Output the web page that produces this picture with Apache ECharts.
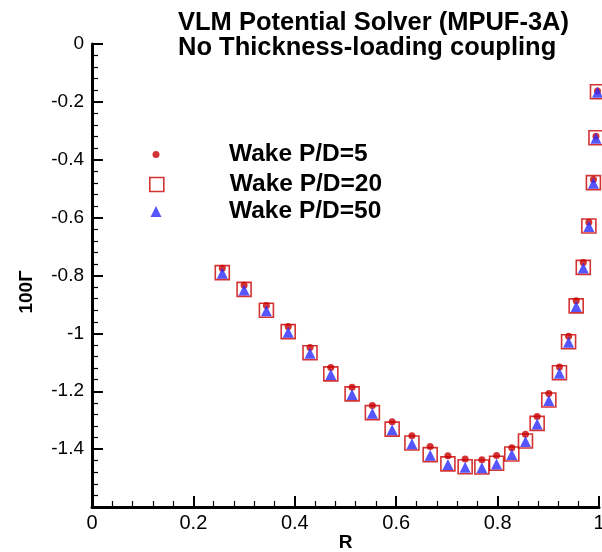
<!DOCTYPE html>
<html>
<head>
<meta charset="utf-8">
<script src="https://cdn.jsdelivr.net/npm/echarts@6/dist/echarts.min.js"></script>
<style>
  html, body { margin: 0; padding: 0; background: #fff; }
  #chart { width: 602px; height: 552px; }
</style>
</head>
<body>
<div id="chart"></div>
<script>
// radius stations (shared by all three wakes)
const radius = [0.257, 0.300, 0.344, 0.387, 0.430, 0.471, 0.513, 0.553, 0.592, 0.631,
    0.667, 0.702, 0.736, 0.769, 0.798, 0.828, 0.855, 0.878, 0.901, 0.922,
    0.940, 0.955, 0.969, 0.980, 0.989, 0.994, 0.997];

// 100*Gamma for each wake pitch
const gammaPD5 = [-0.775, -0.834, -0.904, -0.976, -1.049, -1.118, -1.186, -1.249, -1.305, -1.354,
    -1.391, -1.423, -1.434, -1.437, -1.422, -1.395, -1.349, -1.287, -1.208, -1.116,
    -1.010, -0.887, -0.755, -0.616, -0.468, -0.319, -0.162];
const gammaPD20 = [-0.790, -0.848, -0.920, -0.994, -1.067, -1.140, -1.209, -1.274, -1.331, -1.379,
    -1.419, -1.451, -1.461, -1.462, -1.449, -1.417, -1.372, -1.311, -1.230, -1.136,
    -1.029, -0.905, -0.772, -0.629, -0.479, -0.324, -0.165];
const gammaPD50 = [-0.792, -0.850, -0.922, -0.996, -1.069, -1.142, -1.211, -1.276, -1.333, -1.381,
    -1.421, -1.453, -1.463, -1.464, -1.451, -1.419, -1.374, -1.313, -1.232, -1.138,
    -1.031, -0.907, -0.774, -0.631, -0.481, -0.326, -0.167];

const seriesNames = ["Wake P/D=5", "Wake P/D=20", "Wake P/D=50"];
const titleText = "VLM Potential Solver (MPUF-3A)\nNo Thickness-loading coupling";

const FONT = "Liberation Sans, Arial, Helvetica, sans-serif";
const RED = "#c80000";
const BLUE = "#2c2cff";

const pairs = (ys) => radius.map((r, i) => [r, ys[i]]);

const chart = echarts.init(document.getElementById("chart"));

// one legend per entry so each icon keeps its own size
const legendText = { fontSize: 24.5, fontWeight: "bold", color: "#000", fontFamily: FONT };
function legendEntry(name, icon, size, top, itemStyle) {
    return {
        data: [{ name: name, icon: icon }],
        left: 156 - size / 2,
        top: top,
        orient: "vertical",
        padding: 0,
        itemWidth: 136,
        itemHeight: size,
        itemGap: 0,
        selectedMode: false,
        symbolKeepAspect: true,
        itemStyle: itemStyle,
        textStyle: legendText
    };
}

chart.setOption({
    backgroundColor: "#fff",
    animation: false,

    title: {
        text: titleText,
        left: 178,
        top: 10,
        padding: 0,
        textStyle: { fontSize: 25.5, fontWeight: "bold", color: "#000", lineHeight: 25, fontFamily: FONT }
    },

    legend: [
        legendEntry(seriesNames[0], "circle", 7, 142, { color: RED, borderWidth: 0 }),
        legendEntry(seriesNames[1], "path://M0,0L10,0L10,10L0,10Z", 14, 172,
            { color: "transparent", borderColor: RED, borderWidth: 1.6 }),
        legendEntry(seriesNames[2], "path://M5,0L10,10L0,10Z", 11, 199, { color: BLUE, borderWidth: 0 })
    ],

    grid: { left: 92, right: 3, top: 44, bottom: 45, outerBoundsMode: "none", containLabel: false },

    xAxis: {
        type: "value",
        min: 0, max: 1, interval: 0.2,
        name: "R",
        nameLocation: "middle",
        nameGap: 26,
        nameMoveOverlap: false,
        nameTextStyle: { fontSize: 19, fontWeight: "bold", color: "#000", fontFamily: FONT },
        axisLine: { onZero: false, lineStyle: { color: "#000", width: 3 } },
        axisTick: { inside: true, length: 11, lineStyle: { color: "#000", width: 2 } },
        minorTick: { show: true, splitNumber: 5, length: 6, lineStyle: { color: "#000", width: 1.2 } },
        axisLabel: { fontSize: 20, color: "#000", margin: 6, fontFamily: FONT },
        splitLine: { show: false }
    },

    yAxis: {
        type: "value",
        min: -1.6, max: 0, interval: 0.2,
        name: "100\u0393",
        nameLocation: "middle",
        nameGap: 56,
        nameMoveOverlap: false,
        nameTextStyle: { fontSize: 19, fontWeight: "bold", color: "#000", fontFamily: FONT, padding: [0, 33, 0, 0] },
        axisLine: { onZero: false, lineStyle: { color: "#000", width: 3 } },
        axisTick: { inside: true, length: 11, lineStyle: { color: "#000", width: 2 } },
        minorTick: { show: true, splitNumber: 5, length: 6, lineStyle: { color: "#000", width: 1.2 } },
        axisLabel: {
            fontSize: 19, color: "#000", margin: 8, fontFamily: FONT,
            formatter: (v) => (v < -1.55 ? "" : String(Math.round(v * 10) / 10))
        },
        splitLine: { show: false }
    },

    series: [
        {
            name: seriesNames[0],
            type: "scatter",
            symbol: "circle",
            symbolSize: 7,
            clip: false,
            itemStyle: { color: RED },
            data: pairs(gammaPD5)
        },
        {
            name: seriesNames[1],
            type: "scatter",
            symbol: "rect",
            symbolSize: 14,
            clip: false,
            itemStyle: { color: "transparent", borderColor: RED, borderWidth: 1.6 },
            data: pairs(gammaPD20)
        },
        {
            name: seriesNames[2],
            type: "scatter",
            symbol: "triangle",
            symbolSize: 11,
            clip: false,
            itemStyle: { color: BLUE },
            data: pairs(gammaPD50)
        }
    ]
});
</script>
</body>
</html>
